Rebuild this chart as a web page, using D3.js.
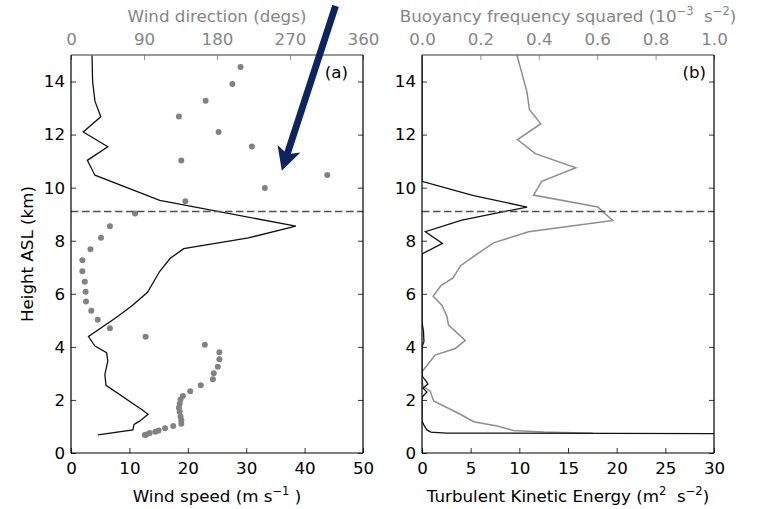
<!DOCTYPE html>
<html>
<head>
<meta charset="utf-8">
<script src="https://cdnjs.cloudflare.com/ajax/libs/d3/7.8.5/d3.min.js"></script>
<style>
  body { margin: 0; background: #fff; }
  text { font-family: "DejaVu Sans", sans-serif; font-size: 16.7px; }
</style>
</head>
<body>
<script>
// wind speed profile (panel a, black line)
const speedHeights = [15, 14, 13.26, 12.67, 12.1, 11.54, 11.03, 10.47, 9.52, 8.55, 8.11, 7.7, 7.34, 6.85, 6.06, 5.54, 5.07, 4.39, 4.03, 3.78, 3.46, 2.96, 2.55, 1.64, 1.46, 1.21, 1.08, 0.87, 0.68];
const speedValues  = [3.6, 3.7, 4.1, 5.1, 2.1, 6.3, 2.8, 4.1, 15.2, 38.5, 30.4, 19.3, 17.0, 15.2, 13.1, 10.4, 7.5, 3.0, 4.1, 6.1, 6.3, 5.8, 6.0, 12.1, 13.2, 11.8, 10.8, 10.6, 4.6];

// wind direction (panel a, grey dots)
const dirHeights = [14.55, 13.91, 13.28, 12.68, 12.1, 11.55, 11.02, 10.48, 9.99, 9.49, 9.03, 8.55, 8.11, 7.68, 7.26, 6.85, 6.45, 6.08, 5.71, 5.36, 5.02, 4.70, 4.38, 4.08, 3.80, 3.53, 3.25, 3.01, 2.78, 2.55, 2.33, 2.15, 2.02, 1.86, 1.71, 1.55, 1.38, 1.23, 1.10, 1.02, 0.93, 0.85, 0.80, 0.75, 0.70, 0.68];
const dirValues  = [209, 199, 166, 133, 182, 223, 136, 316, 239, 141, 79, 48, 37, 24, 14, 14, 17, 18, 18.5, 25, 33, 48, 92, 165, 183, 183, 181, 176, 175, 160, 147, 138, 135, 134, 133, 134, 135, 136, 136, 126, 116, 108, 104, 97, 93, 91];

// turbulent kinetic energy (panel b, black line)
const tkeHeights = [15, 10.24, 9.7, 9.27, 9.06, 8.78, 8.34, 7.9, 7.5, 4.9, 4.6, 4.2, 4.0, 2.9, 2.72, 2.6, 2.45, 2.3, 2.1, 1.2, 1.05, 0.87, 0.79, 0.75, 0.73];
const tkeValues  = [0, 0, 5.3, 10.8, 7.9, 4.1, 0.34, 2.1, 0, 0, 0.15, 0.2, 0, 0, 0.4, 0.6, 0.1, 0.5, 0, 0, 0.2, 0.5, 0.9, 2.5, 31];

// buoyancy frequency squared (panel b, grey line)
const n2Heights = [15.0, 13.63, 12.94, 12.41, 11.81, 11.28, 10.75, 10.24, 9.72, 9.27, 8.76, 8.34, 7.92, 7.48, 7.07, 6.6, 6.31, 5.91, 5.57, 5.16, 4.82, 4.24, 3.94, 3.69, 3.06, 2.8, 2.52, 2.33, 1.96, 1.46, 1.18, 1.02, 0.85, 0.79, 0.74];
const n2Values  = [0.325, 0.359, 0.368, 0.407, 0.327, 0.388, 0.527, 0.41, 0.382, 0.602, 0.653, 0.365, 0.245, 0.186, 0.133, 0.106, 0.065, 0.038, 0.068, 0.085, 0.091, 0.148, 0.114, 0.045, 0.0, 0.0, 0.003, 0.028, 0.04, 0.131, 0.177, 0.257, 0.313, 0.416, 0.586];

// dashed reference height (km)
const markHeight = [9.1];

// ticks
const heightTicks = [0, 2, 4, 6, 8, 10, 12, 14];
const speedTicks = [0, 10, 20, 30, 40, 50];
const dirTicks = [0, 90, 180, 270, 360];
const tkeTicks = [0, 5, 10, 15, 20, 25, 30];
const n2Ticks = [0, 0.2, 0.4, 0.6, 0.8, 1.0];

// annotation arrow in panel a units: [speed, height]
const arrowFrom = [45.3, 16.85];
const arrowTo = [36.1, 10.64];

(function() {
  let svgContainer = "";
  const top = 55, bottom = 453;
  const greyText = "#858585";

  window.onload = function() {
    svgContainer = d3.select('body')
      .append('svg')
        .attr('width', 757)
        .attr('height', 509);

    let yScale = d3.scaleLinear().domain([0, 15]).range([bottom, top]);

    // panel a
    let speedScale = d3.scaleLinear().domain([0, 50]).range([71, 363]);
    let dirScale = d3.scaleLinear().domain([0, 360]).range([71, 363]);
    // panel b
    let tkeScale = d3.scaleLinear().domain([0, 30]).range([422, 714]);
    let n2Scale = d3.scaleLinear().domain([0, 1]).range([422, 714]);

    let defs = svgContainer.append('defs');
    defs.append('clipPath').attr('id', 'clipA')
      .append('rect').attr('x', 71).attr('y', top).attr('width', 292).attr('height', bottom - top);
    defs.append('clipPath').attr('id', 'clipB')
      .append('rect').attr('x', 422).attr('y', top).attr('width', 292).attr('height', bottom - top);

    let line = (xs, ys, xScale) => d3.line()
      .x((d, i) => xScale(xs[i]))
      .y((d, i) => yScale(ys[i]))(ys);

    // ---- panel a marks
    let gA = svgContainer.append('g').attr('clip-path', 'url(#clipA)');
    gA.selectAll('.dot')
      .data(dirValues)
      .enter()
      .append('circle')
        .attr('cx', (d) => dirScale(d))
        .attr('cy', (d, i) => yScale(dirHeights[i]))
        .attr('r', 3)
        .attr('fill', '#828282');
    gA.append('path')
      .attr('d', line(speedValues, speedHeights, speedScale))
      .attr('fill', 'none')
      .attr('stroke', '#111')
      .attr('stroke-width', 1.3);

    // ---- panel b marks
    let gB = svgContainer.append('g').attr('clip-path', 'url(#clipB)');
    gB.append('path')
      .attr('d', line(n2Values, n2Heights, n2Scale))
      .attr('fill', 'none')
      .attr('stroke', '#8e8e8e')
      .attr('stroke-width', 1.5);
    gB.append('path')
      .attr('d', line(tkeValues, tkeHeights, tkeScale))
      .attr('fill', 'none')
      .attr('stroke', '#111')
      .attr('stroke-width', 1.3);

    // dashed line in both panels
    [[speedScale, 'A'], [tkeScale, 'B']].forEach(([xs, id]) => {
      svgContainer.append('g').selectAll('line')
        .data(markHeight)
        .enter()
        .append('line')
          .attr('x1', xs.range()[0]).attr('x2', xs.range()[1])
          .attr('y1', (d) => yScale(d)).attr('y2', (d) => yScale(d))
          .attr('stroke', '#505050')
          .attr('stroke-width', 1.5)
          .attr('stroke-dasharray', '7.5,3.5');
    });

    // axes frames
    drawPanel(speedScale, dirScale, yScale, speedTicks, dirTicks, (d) => d, (d) => d);
    drawPanel(tkeScale, n2Scale, yScale, tkeTicks, n2Ticks, (d) => d, d3.format('.1f'));

    // panel letters
    svgContainer.append('text').attr('x', 348).attr('y', 78).attr('text-anchor', 'end').text('(a)');
    svgContainer.append('text').attr('x', 706).attr('y', 78).attr('text-anchor', 'end').text('(b)');

    // axis titles
    svgContainer.append('text')
      .attr('transform', 'translate(33,254) rotate(-90)')
      .attr('text-anchor', 'middle')
      .text('Height ASL (km)');

    svgContainer.append('text')
      .attr('x', 217).attr('y', 22).attr('text-anchor', 'middle')
      .attr('fill', greyText)
      .text('Wind direction (degs)');

    let t1 = svgContainer.append('text')
      .attr('x', 217).attr('y', 502).attr('text-anchor', 'middle');
    t1.append('tspan').text('Wind speed (m s');
    t1.append('tspan').attr('dy', -7).style('font-size', '11.5px').text('\u22121');
    t1.append('tspan').attr('dy', 7).text(' )');

    let t2 = svgContainer.append('text')
      .attr('x', 568).attr('y', 502).attr('text-anchor', 'middle');
    t2.append('tspan').text('Turbulent Kinetic Energy (m');
    t2.append('tspan').attr('dy', -7).style('font-size', '11.5px').text('2');
    t2.append('tspan').attr('dy', 7).text('\u00a0 s');
    t2.append('tspan').attr('dy', -7).style('font-size', '11.5px').text('\u22122');
    t2.append('tspan').attr('dy', 7).text(')');

    let t3 = svgContainer.append('text')
      .attr('x', 568).attr('y', 22).attr('text-anchor', 'middle')
      .attr('fill', greyText);
    t3.append('tspan').text('Buoyancy frequency squared (10');
    t3.append('tspan').attr('dy', -7).style('font-size', '11.5px').text('\u22123');
    t3.append('tspan').attr('dy', 7).text('\u00a0 s');
    t3.append('tspan').attr('dy', -7).style('font-size', '11.5px').text('\u22122');
    t3.append('tspan').attr('dy', 7).text(')');

    drawArrow(speedScale, yScale);
  }

  // frame + ticks on all four sides, ticks pointing inward
  function drawPanel(xBottom, xTop, yScale, bTicks, tTicks, bFmt, tFmt) {
    let x0 = xBottom.range()[0], x1 = xBottom.range()[1];

    let gb = svgContainer.append('g')
      .attr('transform', `translate(0, ${bottom})`)
      .call(d3.axisBottom(xBottom).tickValues(bTicks).tickFormat(bFmt)
        .tickSizeInner(-5).tickSizeOuter(0).tickPadding(9));
    styleAxis(gb, '#000', '#000');

    let gt = svgContainer.append('g')
      .attr('transform', `translate(0, ${top})`)
      .call(d3.axisTop(xTop).tickValues(tTicks).tickFormat(tFmt)
        .tickSizeInner(-5).tickSizeOuter(0).tickPadding(10));
    styleAxis(gt, '#777', greyText);

    let gl = svgContainer.append('g')
      .attr('transform', `translate(${x0}, 0)`)
      .call(d3.axisLeft(yScale).tickValues(heightTicks)
        .tickSizeInner(-5).tickSizeOuter(0).tickPadding(6));
    styleAxis(gl, '#000', '#000');

    let gr = svgContainer.append('g')
      .attr('transform', `translate(${x1}, 0)`)
      .call(d3.axisRight(yScale).tickValues(heightTicks).tickFormat('')
        .tickSizeInner(-5).tickSizeOuter(0));
    styleAxis(gr, '#000', '#000');

    // spines
    svgContainer.append('line')
      .attr('x1', x0).attr('x2', x1).attr('y1', top).attr('y2', top)
      .attr('stroke', '#777').attr('stroke-width', 1.4);
    svgContainer.append('line')
      .attr('x1', x0).attr('x2', x1).attr('y1', bottom).attr('y2', bottom)
      .attr('stroke', '#000').attr('stroke-width', 1.2);
    svgContainer.append('line')
      .attr('x1', x0).attr('x2', x0).attr('y1', top).attr('y2', bottom)
      .attr('stroke', '#000').attr('stroke-width', 1.2);
    svgContainer.append('line')
      .attr('x1', x1).attr('x2', x1).attr('y1', top).attr('y2', bottom)
      .attr('stroke', '#000').attr('stroke-width', 1.2);
  }

  function styleAxis(g, tickColor, textColor) {
    g.select('.domain').remove();
    g.selectAll('.tick line').attr('stroke', tickColor).attr('stroke-width', 0.8);
    g.selectAll('.tick text')
      .attr('fill', textColor)
      .style('font-family', '"DejaVu Sans", sans-serif')
      .style('font-size', '16.7px');
  }

  // navy annotation arrow
  function drawArrow(xScale, yScale) {
    let sx = xScale(arrowFrom[0]), sy = yScale(arrowFrom[1]);
    let tx = xScale(arrowTo[0]), ty = yScale(arrowTo[1]);
    let len = Math.hypot(tx - sx, ty - sy);
    let ux = (tx - sx) / len, uy = (ty - sy) / len;
    let nx = -uy, ny = ux;
    let headLen = 23, headHalf = 12, shaftHalf = 3.4, notch = 19;
    let pt = (back, side) => [tx - ux * back + nx * side, ty - uy * back + ny * side];
    let pts = [
      [tx, ty],
      pt(headLen, headHalf),
      pt(notch, shaftHalf),
      [sx + nx * shaftHalf, sy + ny * shaftHalf],
      [sx - nx * shaftHalf, sy - ny * shaftHalf],
      pt(notch, -shaftHalf),
      pt(headLen, -headHalf)
    ];
    svgContainer.append('polygon')
      .attr('points', pts.map((p) => p.join(',')).join(' '))
      .attr('fill', '#0c2461');
  }

})();
</script>
</body>
</html>
